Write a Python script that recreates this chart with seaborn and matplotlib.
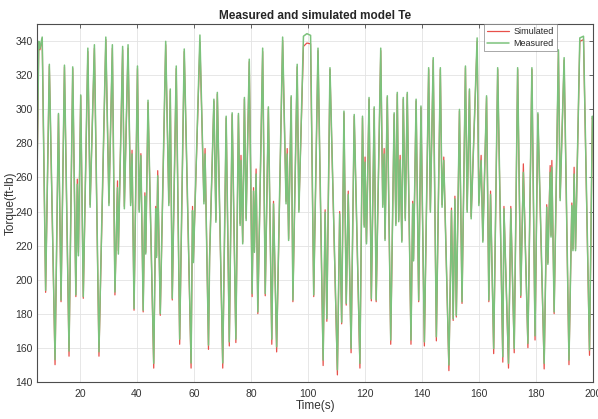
import matplotlib
matplotlib.use("Agg")
import matplotlib.pyplot as plt
import seaborn as sns
import pandas as pd

# ---- data ----
time_s = [
    5.0, 5.6, 6.0, 6.8, 8.0, 9.3, 11.3, 12.5, 13.4, 14.6,
    16.2, 17.5, 18.6, 19.1, 19.5, 20.3, 21.2, 22.8, 23.6, 25.1,
    26.7, 29.1, 30.2, 31.4, 32.3, 33.2, 33.5, 35.0, 35.6, 36.9,
    37.8, 38.3, 39.0, 40.2, 40.8, 41.4, 42.2, 42.8, 43.1, 43.9,
    45.9, 46.6, 46.9, 47.3, 48.2, 50.1, 51.2, 51.7, 52.4, 53.8,
    55.0, 56.6, 59.0, 59.5, 59.8, 62.1, 63.5, 63.9, 65.1, 65.5,
    67.0, 67.7, 68.2, 70.1, 71.3, 72.4, 73.4, 74.7, 75.6, 76.2,
    76.5, 77.1, 77.7, 78.3, 79.4, 80.4, 80.9, 81.2, 81.8, 82.4,
    84.1, 85.0, 86.1, 87.3, 87.9, 89.0, 91.1, 92.3, 92.7, 93.2,
    94.1, 94.7, 96.2, 96.8, 98.4, 99.6, 100.9, 102.0, 103.5, 105.3,
    106.0, 106.6, 107.7, 110.3, 111.1, 111.8, 112.6, 113.4, 114.1, 115.1,
    116.2, 118.2, 119.1, 119.7, 120.0, 120.5, 121.4, 122.2, 123.2, 123.9,
    125.5, 126.2, 126.7, 127.0, 127.8, 129.0, 130.2, 130.8, 131.3, 131.8,
    132.3, 132.9, 133.4, 134.1, 134.8, 136.1, 136.7, 137.0, 137.9, 138.8,
    139.6, 140.8, 142.3, 142.9, 143.9, 145.0, 146.4, 147.0, 147.6, 149.4,
    150.3, 150.9, 151.5, 152.0, 153.1, 154.0, 155.2, 155.8, 156.6, 157.2,
    159.3, 159.9, 160.7, 161.3, 162.6, 163.4, 164.0, 165.1, 166.5, 168.3,
    168.7, 170.3, 171.1, 172.3, 173.5, 174.6, 175.5, 177.1, 178.5, 179.6,
    180.6, 182.8, 183.7, 184.1, 184.9, 185.2, 185.5, 186.3, 187.8, 188.4,
    189.8, 191.5, 192.5, 192.9, 193.3, 193.8, 195.3, 196.6, 198.7, 199.7,
    200.0,
]

measured = [
    262, 340, 336, 342.5, 193.7, 326.5, 153, 297.6, 188, 326,
    158, 325, 191, 256, 214, 308.5, 190, 336, 242.5, 338,
    157.6, 342.5, 243.5, 338, 192.7, 254, 215, 337, 241.6, 338,
    243.5, 273.8, 183, 325.5, 239.6, 272.8, 182, 249, 215, 305.4,
    150.8, 241.6, 213, 261, 180, 340, 243.5, 312, 189, 325.5,
    165, 335.5, 151, 240.6, 210, 343.7, 244.5, 273.8, 161.5, 213,
    306, 233.7, 310, 151, 296, 163.4, 298, 165, 297.6, 231.8,
    270, 221, 307, 234.7, 329.5, 191.8, 252, 216, 262, 181,
    336, 191.8, 301.5, 165, 244.5, 160.5, 342.5, 244.5, 273.8, 223,
    308, 188, 326.5, 239.6, 343, 344.5, 343.5, 191, 336, 152.7,
    239.6, 177, 324.5, 147, 238.6, 175, 299, 186, 250, 159.5,
    297, 150.8, 296, 230.8, 269, 221, 307, 188.8, 301.5, 188,
    336, 242.5, 273.8, 223, 308, 164.5, 298, 231.8, 310, 234,
    270.3, 222, 307, 234.7, 310, 164.5, 244.5, 211, 306, 188,
    302, 163.4, 324.5, 239.6, 330.4, 166.4, 324.5, 242.5, 270, 149.8,
    240.6, 177, 247.4, 179, 300, 187, 325.5, 239.6, 312, 235.7,
    342, 243.5, 270, 222, 308, 188, 250, 159.5, 324.5, 154.6,
    241.6, 150.8, 241.6, 159.5, 324.5, 190.8, 263, 162.5, 324.5, 167,
    298, 150.8, 242.5, 209, 263, 225, 266, 181, 335, 246.4,
    330.4, 152.7, 243.5, 217, 262, 217, 342, 343, 158.6, 296,
    292,
]

simulated = [
    262, 339, 335, 341.5, 192.5, 325.5, 150, 297, 187, 325,
    155, 324, 190, 259, 216, 308, 189, 334, 244, 336,
    155, 341, 245, 336, 191, 258, 217, 335, 243, 336,
    245, 276, 182, 324, 241, 274, 181, 251, 216, 304,
    148, 243, 214, 264, 179, 338, 245, 311, 188, 324,
    162, 334, 148, 243, 211, 339.5, 246, 277, 159, 214,
    305, 235, 309, 148, 295, 161, 297, 163, 296.5, 233,
    273, 222, 306, 236, 328, 190, 254, 217, 265, 180,
    334, 190.5, 300.5, 162, 246, 157.5, 340.5, 246, 277, 224,
    307, 187, 325, 241, 337, 339, 338.5, 190, 334.5, 149.5,
    241, 175.5, 323.5, 144, 240, 174, 298, 185, 252, 157,
    296, 148, 295, 232, 272, 222, 306, 187.5, 300.5, 187,
    334.5, 244, 277, 224, 307, 162, 297, 233, 309, 235,
    273, 223, 306, 236, 309, 162, 246, 212, 305, 187,
    301, 161, 323.5, 241, 329, 164, 323.5, 244, 272, 146.5,
    242, 176, 249, 178, 299, 186, 324.5, 241, 311, 237,
    340, 245, 273, 223, 307, 187, 252, 156.5, 323.5, 151.5,
    243, 148, 243, 157, 323.5, 189.5, 268, 160, 323.5, 164.5,
    297, 147.5, 244, 210, 267, 226, 270, 180, 333.5, 248,
    329, 150, 245, 218, 266, 218, 340, 341, 155.5, 295,
    292,
]

series_names = ["Simulated", "Measured"]
title_text = "Measured and simulated model Te"
x_ticks = [20, 40, 60, 80, 100, 120, 140, 160, 180, 200]
y_ticks = [140, 160, 180, 200, 220, 240, 260, 280, 300, 320, 340]

# ---- figure ----
sns.set_style("white")
plt.rcParams["font.family"] = ["Liberation Sans", "DejaVu Sans"]

fig = plt.figure(figsize=(5.98, 4.19), dpi=100)
ax = fig.add_axes([0.062, 0.089, 0.930, 0.853])

df = pd.DataFrame({"t": time_s, "Simulated": simulated, "Measured": measured})

sns.lineplot(data=df, x="t", y="Simulated", ax=ax, color="#e8504a",
             linewidth=0.9, estimator=None, sort=False, label=series_names[0])
sns.lineplot(data=df, x="t", y="Measured", ax=ax, color="#7cc27c",
             linewidth=1.1, estimator=None, sort=False,
             label=series_names[1])

ax.set_xlim(5, 200)
ax.set_ylim(140, 350)
ax.set_xticks(x_ticks)
ax.set_yticks(y_ticks)
ax.grid(True, color="#e3e3e3", linewidth=0.6)
ax.set_axisbelow(True)
for sp in ax.spines.values():
    sp.set_color("#4d4d4d")
    sp.set_linewidth(0.8)
ax.tick_params(direction="in", length=3, width=0.6, colors="#4d4d4d",
               labelcolor="#333333", labelsize=7.5, top=True, right=True)
ax.tick_params(axis="x", pad=5)
ax.tick_params(axis="y", pad=3)

ax.set_xlabel("Time(s)", fontsize=8.5, color="#333333", labelpad=1)
ax.set_ylabel("Torque(ft-lb)", fontsize=8.5, color="#333333")
ax.yaxis.set_label_coords(-0.036, 0.5)
ax.set_title(title_text, fontsize=8.5, fontweight="bold",
             family=["Liberation Sans Narrow", "Liberation Sans", "DejaVu Sans"],
             pad=4)

leg = ax.legend(loc="upper right", bbox_to_anchor=(0.935, 1.0), fontsize=6.5,
                frameon=True, fancybox=False, handlelength=2.4,
                borderpad=0.35, labelspacing=0.25, handletextpad=0.5,
                borderaxespad=0.0)
leg.get_frame().set_edgecolor("#808080")
leg.get_frame().set_linewidth(0.6)

fig.savefig("out.png", dpi=100)
